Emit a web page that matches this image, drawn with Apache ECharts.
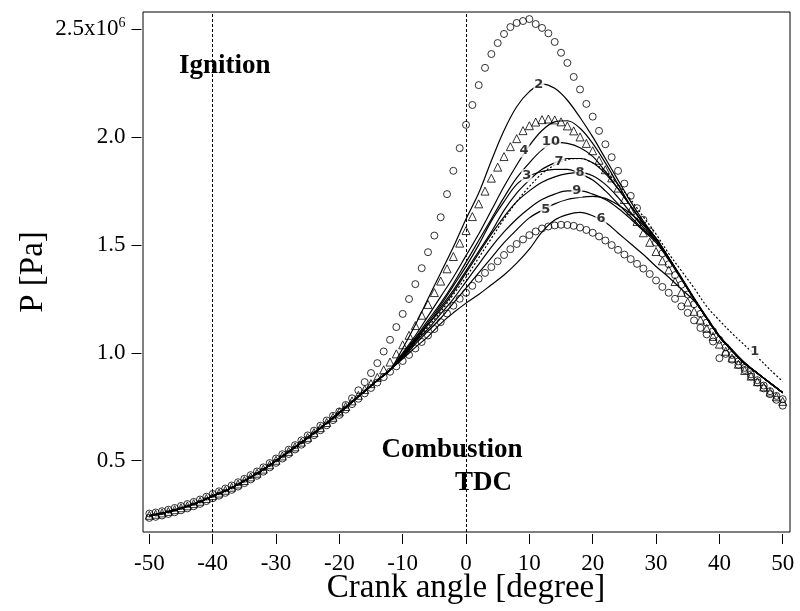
<!DOCTYPE html>
<html><head><meta charset="utf-8">
<script src="https://cdn.jsdelivr.net/npm/echarts@6/dist/echarts.min.js"></script>
<style>html,body{margin:0;padding:0;background:#fff}#c{width:800px;height:611px}</style>
</head><body><div id="c"></div>
<script>
// ---- axis ticks ----
const xTicks = [-50, -40, -30, -20, -10, 0, 10, 20, 30, 40, 50];
const yTicks = [0.5, 1.0, 1.5, 2.0, 2.5];          // x10^6 Pa
const refAngles = [-40, 0];                          // ignition, TDC

// ---- crank angles ----
const lineAngles = [-50,-48,-46,-44,-42,-40,-38,-36,-34,-32,-30,-28,-26,-24,-22,-20,-18,-16,-14,-12,
  -10,-8,-6,-4,-2,0,2,4,6,8,10,12,14,16,18,20,22,24,26,28,30,32,34,36,38,40,42,44,46,48,50];
const markerAngles = [-50,-49,-48,-47,-46,-45,-44,-43,-42,-41,-40,-39,-38,-37,-36,-35,-34,-33,-32,-31,
  -30,-29,-28,-27,-26,-25,-24,-23,-22,-21,-20,-19,-18,-17,-16,-15,-14,-13,-12,-11,
  -10,-9,-8,-7,-6,-5,-4,-3,-2,-1,0,1,2,3,4,5,6,7,8,9,10,11,12,13,14,15,16,17,18,19,
  20,21,22,23,24,25,26,27,28,29,30,31,32,33,34,35,36,37,38,39,40,41,42,43,44,45,46,47,48,49,50];

// ---- shared compression part (-50 .. -12) of the numbered curves ----
const compression = [0.245,0.256,0.271,0.289,0.310,0.336,0.361,0.390,0.423,0.459,
  0.500,0.541,0.584,0.628,0.674,0.722,0.772,0.822,0.872,0.921];

// ---- numbered curves, -10 .. 50 ----
const line1 = [0.980,1.050,1.120,1.190,1.270,1.350,1.440,1.530,1.620,1.700,1.770,1.830,1.870,1.895,1.900,1.880,1.840,1.780,1.710,1.630,1.550,1.460,1.380,1.300,1.215,1.150,1.090,1.035,0.980,0.922,0.867];
const line2 = [1.020,1.130,1.250,1.370,1.490,1.620,1.740,1.890,2.030,2.140,2.210,2.245,2.225,2.170,2.090,2.000,1.900,1.800,1.700,1.610,1.530,1.440,1.350,1.255,1.165,1.080,1.015,0.955,0.905,0.860,0.815];
const line3 = [0.990,1.065,1.140,1.220,1.310,1.400,1.500,1.610,1.700,1.780,1.820,1.840,1.850,1.850,1.830,1.800,1.750,1.690,1.630,1.570,1.520,1.435,1.345,1.250,1.160,1.075,1.010,0.950,0.905,0.860,0.815];
const line4 = [1.000,1.080,1.170,1.260,1.350,1.450,1.550,1.660,1.770,1.870,1.960,2.030,2.070,2.075,2.040,1.970,1.880,1.780,1.680,1.600,1.530,1.440,1.345,1.250,1.160,1.075,1.010,0.950,0.905,0.860,0.815];
const line5 = [0.975,1.040,1.100,1.160,1.230,1.300,1.370,1.440,1.510,1.570,1.625,1.660,1.690,1.710,1.720,1.725,1.715,1.685,1.645,1.590,1.520,1.440,1.345,1.250,1.160,1.075,1.010,0.950,0.905,0.860,0.815];
const line6 = [0.972,1.025,1.075,1.135,1.185,1.230,1.270,1.315,1.360,1.415,1.480,1.560,1.615,1.640,1.650,1.635,1.605,1.555,1.505,1.455,1.400,1.350,1.295,1.240,1.160,1.075,1.010,0.950,0.905,0.860,0.815];
const line7 = [0.985,1.060,1.130,1.210,1.290,1.380,1.470,1.560,1.660,1.740,1.800,1.850,1.880,1.900,1.900,1.880,1.830,1.760,1.680,1.600,1.530,1.440,1.345,1.250,1.160,1.075,1.010,0.950,0.905,0.860,0.815];
const line8 = [0.985,1.055,1.130,1.200,1.280,1.370,1.460,1.550,1.630,1.700,1.750,1.790,1.815,1.830,1.835,1.820,1.780,1.720,1.650,1.580,1.520,1.435,1.345,1.250,1.160,1.075,1.010,0.950,0.905,0.860,0.815];
const line9 = [0.980,1.050,1.110,1.180,1.250,1.330,1.410,1.490,1.560,1.620,1.670,1.710,1.735,1.750,1.750,1.735,1.710,1.670,1.620,1.565,1.510,1.430,1.340,1.250,1.160,1.075,1.010,0.950,0.905,0.860,0.815];
const line10 = [0.995,1.070,1.150,1.230,1.320,1.420,1.520,1.620,1.720,1.810,1.880,1.940,1.975,1.970,1.950,1.910,1.840,1.760,1.680,1.600,1.530,1.440,1.345,1.250,1.160,1.075,1.010,0.950,0.905,0.860,0.815];

// ---- marker series, -50 .. 50 ----
const upperCircles = [
  0.255,0.260,0.266,0.273,0.281,0.290,0.299,0.309,0.320,0.333,
  0.346,0.358,0.371,0.385,0.400,0.416,0.433,0.450,0.469,0.489,
  0.510,0.530,0.551,0.572,0.594,0.617,0.639,0.662,0.686,0.708,
  0.728,0.758,0.789,0.826,0.864,0.906,0.952,1.006,1.060,1.119,
  1.180,1.249,1.318,1.392,1.466,1.543,1.628,1.735,1.843,1.948,
  2.056,2.148,2.240,2.320,2.384,2.435,2.477,2.509,2.528,2.537,
  2.546,2.523,2.505,2.480,2.440,2.390,2.343,2.278,2.220,2.153,
  2.094,2.028,1.966,1.906,1.843,1.784,1.727,1.670,1.616,1.562,
  1.510,1.460,1.410,1.360,1.315,1.270,1.225,1.180,1.140,1.100,
  1.060,1.025,0.990,0.960,0.930,0.900,0.873,0.848,0.822,0.800,0.785];
const lowerCircles = [
  0.235,0.240,0.246,0.253,0.261,0.270,0.279,0.289,0.300,0.313,
  0.326,0.338,0.351,0.365,0.380,0.396,0.413,0.430,0.449,0.469,
  0.490,0.510,0.531,0.552,0.574,0.596,0.618,0.641,0.664,0.688,
  0.712,0.737,0.762,0.787,0.812,0.837,0.862,0.887,0.912,0.937,
  0.962,0.990,1.020,1.050,1.080,1.110,1.142,1.182,1.218,1.250,
  1.278,1.310,1.343,1.370,1.397,1.424,1.453,1.480,1.504,1.525,
  1.545,1.562,1.576,1.585,1.590,1.593,1.592,1.588,1.580,1.569,
  1.556,1.539,1.520,1.499,1.477,1.455,1.434,1.412,1.390,1.365,
  1.335,1.305,1.278,1.250,1.215,1.185,1.150,1.115,1.085,1.052,
  0.975,0.995,0.968,0.944,0.920,0.890,0.862,0.835,0.808,0.782,0.755];
const triangles = [
  0.247,0.252,0.258,0.265,0.273,0.282,0.291,0.301,0.312,0.325,
  0.338,0.350,0.363,0.377,0.392,0.408,0.425,0.442,0.461,0.481,
  0.502,0.522,0.543,0.564,0.586,0.608,0.630,0.653,0.677,0.701,
  0.726,0.751,0.777,0.803,0.830,0.857,0.886,0.921,0.957,0.995,
  1.037,1.081,1.126,1.174,1.224,1.279,1.332,1.389,1.446,1.508,
  1.566,1.631,1.690,1.749,1.809,1.860,1.909,1.955,1.992,2.029,
  2.052,2.069,2.080,2.083,2.079,2.070,2.051,2.028,2.000,1.970,
  1.936,1.892,1.848,1.810,1.763,1.710,1.658,1.608,1.556,1.512,
  1.469,1.426,1.384,1.330,1.280,1.235,1.192,1.152,1.113,1.076,
  1.040,1.007,0.976,0.947,0.918,0.892,0.866,0.842,0.818,0.796,0.775];

// ---- curve labels: [crank angle, pressure, text] ----
const curveLabels = [
  [11.5, 2.242, '2'], [13.4, 1.977, '10'], [9.15, 1.935, '4'], [14.7, 1.884, '7'],
  [9.6, 1.820, '3'], [18.0, 1.833, '8'], [17.5, 1.750, '9'], [12.6, 1.662, '5'],
  [21.3, 1.620, '6'], [45.6, 1.003, '1']];

const curves = [
  ['1', line1, true], ['2', line2], ['3', line3], ['4', line4], ['5', line5],
  ['6', line6], ['7', line7], ['8', line8], ['9', line9], ['10', line10]];

function pairs(xs, ys) { return ys.map((y, i) => [xs[i], y]); }

const serif = '"Liberation Serif", "Times New Roman", serif';
const series = [];

curves.forEach(([name, vals, dotted]) => {
  series.push({
    type: 'line', name: 'curve ' + name,
    data: pairs(lineAngles, compression.concat(vals)),
    symbol: 'none', smooth: 0.35, z: 3,
    lineStyle: { color: '#000', width: 1.2, type: dotted ? [2, 2] : 'solid' }
  });
});

const markerStyle = { color: 'rgba(0,0,0,0)', borderColor: '#000', borderWidth: 1 };
series.push({ type: 'scatter', name: 'upper circles', data: pairs(markerAngles, upperCircles),
  symbol: 'circle', symbolSize: 7, itemStyle: markerStyle, z: 2 });
series.push({ type: 'scatter', name: 'lower circles', data: pairs(markerAngles, lowerCircles),
  symbol: 'circle', symbolSize: 7, itemStyle: markerStyle, z: 2 });
series.push({ type: 'scatter', name: 'triangles', data: pairs(markerAngles, triangles),
  symbol: 'triangle', symbolSize: 8, itemStyle: markerStyle, z: 2 });

series.push({
  type: 'scatter', name: 'labels', z: 10, symbolSize: 1,
  itemStyle: { color: 'rgba(0,0,0,0)' },
  data: curveLabels.map(d => ({ value: [d[0], d[1]], name: d[2] })),
  label: { show: true, position: 'inside', formatter: '{b}', color: '#000',
    fontFamily: '"DejaVu Sans", sans-serif', fontSize: 13, fontWeight: 'bold',
    backgroundColor: '#fff', padding: [0, 1] },
  markLine: {
    symbol: 'none', silent: true, label: { show: false },
    lineStyle: { color: '#000', width: 1, type: [3, 2] },
    data: refAngles.map(a => ({ xAxis: a }))
  }
});

const chart = echarts.init(document.getElementById('c'), null, { renderer: 'canvas' });
chart.setOption({
  animation: false,
  backgroundColor: '#fff',
  grid: { left: 143, right: 10, top: 12, bottom: 79, show: true, borderColor: '#000',
    borderWidth: 1, containLabel: false, outerBoundsMode: 'none' },
  xAxis: {
    type: 'value', min: -51, max: 51.15, offset: 2,
    axisLine: { show: false, onZero: false },
    axisTick: { show: true, length: 10, inside: false, customValues: xTicks,
      lineStyle: { color: '#000', width: 1 } },
    axisLabel: { customValues: xTicks, fontFamily: serif, fontSize: 23, color: '#000', margin: 18 },
    splitLine: { show: false }
  },
  yAxis: {
    type: 'value', min: 0.1696, max: 2.5788, offset: 1.5,
    axisLine: { show: false, onZero: false },
    axisTick: { show: true, length: 10, inside: false, customValues: yTicks,
      lineStyle: { color: '#000', width: 1 } },
    axisLabel: {
      customValues: yTicks, fontFamily: serif, fontSize: 23, color: '#000', margin: 16,
      formatter: v => Math.abs(v - 2.5) < 1e-6 ? '{m|2.5x10}{s|6}' : v.toFixed(1),
      rich: {
        m: { fontFamily: serif, fontSize: 23, color: '#000', lineHeight: 26 },
        s: { fontFamily: serif, fontSize: 14, color: '#000', lineHeight: 14, verticalAlign: 'top' }
      }
    },
    splitLine: { show: false }
  },
  graphic: [
    { type: 'text', x: 179, y: 66, z: 20, style: { text: 'Ignition', font: 'bold 27px ' + serif, fill: '#000', align: 'left', verticalAlign: 'middle' } },
    { type: 'text', x: 381.5, y: 450, z: 20, style: { text: 'Combustion', font: 'bold 27px ' + serif, fill: '#000', align: 'left', verticalAlign: 'middle' } },
    { type: 'text', x: 455, y: 483, z: 20, style: { text: 'TDC', font: 'bold 27px ' + serif, fill: '#000', align: 'left', verticalAlign: 'middle' } },
    { type: 'text', x: 466, y: 588, z: 20, style: { text: 'Crank angle [degree]', font: '33px ' + serif, fill: '#000', align: 'center', verticalAlign: 'middle' } },
    { type: 'text', x: 33, y: 272, rotation: Math.PI / 2, z: 20, style: { text: 'P [Pa]', font: '33px ' + serif, fill: '#000', align: 'center', verticalAlign: 'middle' } }
  ],
  series: series
});
</script>
</body></html>
